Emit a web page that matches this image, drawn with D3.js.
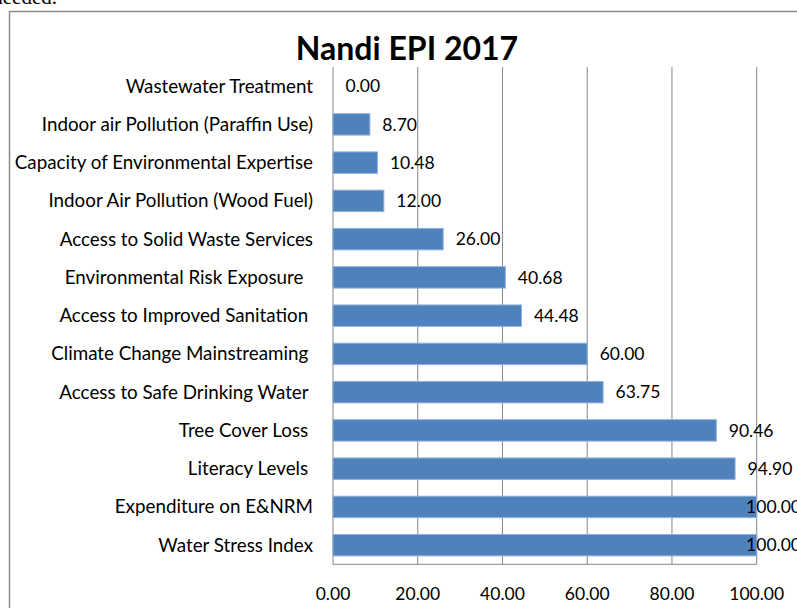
<!DOCTYPE html>
<html>
<head>
<meta charset="utf-8">
<script src="https://cdn.jsdelivr.net/npm/d3@7"></script>
<style>
  body { margin: 0; background: #fff; }
  svg { display: block; }
  text { white-space: pre; }
</style>
</head>
<body>
<script>
// categories top to bottom (trailing spaces kept as in the source sheet)
let categories = [
    "Wastewater Treatment",
    "Indoor air Pollution (Paraffin Use)",
    "Capacity of Environmental Expertise",
    "Indoor Air Pollution (Wood Fuel)",
    "Access to Solid Waste Services",
    "Environmental Risk Exposure  ",
    "Access to Improved Sanitation ",
    "Climate Change Mainstreaming ",
    "Access to Safe Drinking Water ",
    "Tree Cover Loss ",
    "Literacy Levels ",
    "Expenditure on E&NRM",
    "Water Stress Index"
];
let values = [0, 8.70, 10.48, 12.00, 26.00, 40.68, 44.48, 60.00, 63.75, 90.46, 94.90, 100, 100];
let xTicks = [0, 20, 40, 60, 80, 100];
let title = "Nandi EPI 2017";

let data = categories.map((c, i) => ({name: c, value: values[i]}));

let W = 797, H = 608;
let margin = {top: 67, left: 333, right: 40, bottom: 44};
let width = 756.7 - margin.left,
    height = 564.3 - margin.top;

let font = "Lato, 'Open Sans', sans-serif";

let svg = d3.select("body")
            .append("svg")
            .attr("width", W)
            .attr("height", H);

// bit of document text cut off above the chart
svg.append("text")
    .attr("x", 57)
    .attr("y", 4)
    .attr("text-anchor", "end")
    .style("font-family", "'Liberation Serif', serif")
    .style("font-size", "21px")
    .text("needed.");

// chart frame
svg.append("rect")
    .attr("x", 9.5)
    .attr("y", 11.5)
    .attr("width", 800)
    .attr("height", 610)
    .attr("fill", "none")
    .attr("stroke", "#8c8c8c")
    .attr("stroke-width", 1.5);

svg.append("text")
    .attr("x", 407)
    .attr("y", 60)
    .attr("text-anchor", "middle")
    .style("font-family", font)
    .style("font-weight", "bold")
    .style("font-size", "32px")
    .text(title);

let g = svg.append("g")
            .attr("transform", `translate(${margin.left}, ${margin.top})`);

let xScale = d3.scaleLinear()
        .domain([0, 100])
        .range([0, width]);

let yScale = d3.scaleBand()
        .domain(categories)
        .range([0, height])
        .paddingInner(0.44)
        .paddingOuter(0.22);

// gridlines
g.selectAll(".grid")
    .data(xTicks)
    .enter()
    .append("line")
        .attr("x1", d => xScale(d))
        .attr("x2", d => xScale(d))
        .attr("y1", 0)
        .attr("y2", height)
        .attr("stroke", "#868686")
        .attr("stroke-width", 1);

// bottom axis line
g.append("line")
    .attr("x1", 0)
    .attr("x2", width)
    .attr("y1", height)
    .attr("y2", height)
    .attr("stroke", "#868686");

// tick labels
g.selectAll(".tick-label")
    .data(xTicks)
    .enter()
    .append("text")
        .attr("x", d => xScale(d))
        .attr("y", height + 30)
        .attr("dy", "0.35em")
        .attr("text-anchor", "middle")
        .style("font-family", font)
        .style("font-size", "17.5px")
        .text(d => d3.format(".2f")(d));

// category labels
g.selectAll(".cat")
    .data(data)
    .enter()
    .append("text")
        .attr("x", -20)
        .attr("y", d => yScale(d.name) + yScale.bandwidth() / 2)
        .attr("dy", "0.35em")
        .attr("text-anchor", "end")
        .style("font-family", font)
        .style("font-size", "18.8px")
        .text(d => d.name);

// bars
g.selectAll("rect")
    .data(data)
    .enter()
    .append("rect")
        .attr("x", 0)
        .attr("y", d => yScale(d.name))
        .attr("width", d => xScale(d.value))
        .attr("height", yScale.bandwidth())
        .attr("fill", "#4f81bd")
        .attr("stroke", "#8eb0da")
        .attr("stroke-width", d => d.value > 0 ? 1 : 0);

// value labels, pushed back in when they would run off the chart area
let labels = g.selectAll(".val")
    .data(data)
    .enter()
    .append("text")
        .attr("y", d => yScale(d.name) + yScale.bandwidth() / 2)
        .attr("dy", "0.35em")
        .style("font-family", font)
        .style("font-size", "17.5px")
        .text(d => d3.format(".2f")(d.value));

labels.attr("x", function(d) {
    let w = this.getComputedTextLength();
    let limit = 801 - margin.left - w;
    return Math.min(xScale(d.value) + 12.5, limit);
});
</script>
</body>
</html>
